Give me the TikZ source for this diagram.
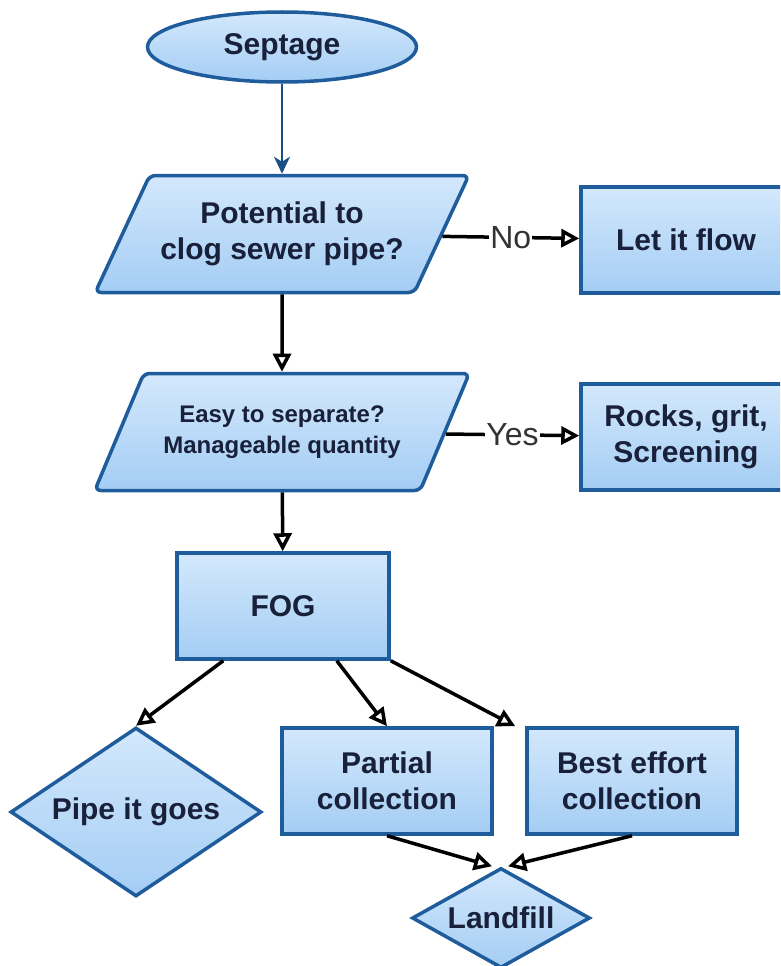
\documentclass[tikz,border=0pt]{standalone}
\usepackage{fontspec}
\setmainfont{Liberation Sans}
\usetikzlibrary{arrows.meta, shapes.geometric}

\definecolor{flowline}{HTML}{1F5C9C}
\definecolor{flowtop}{HTML}{D3E8FC}
\definecolor{flowbot}{HTML}{A4CDF4}
\definecolor{flowtext}{HTML}{18203A}

\begin{document}
\begin{tikzpicture}[x=1pt,y=-1pt,
 base/.style={draw=flowline,line width=3.5pt,top color=flowtop,bottom color=flowbot,
  text=flowtext,font=\fontsize{30}{36}\selectfont\bfseries,align=center},
 box node/.style={base,rectangle,minimum width=210pt,minimum height=106pt},
 term node/.style={base,ellipse,minimum width=269pt,minimum height=70pt},
 ask node/.style={base,trapezium,trapezium left angle=54,trapezium right angle=126,
  trapezium stretches=true,rounded corners=6pt,minimum width=375pt,minimum height=117pt},
 end node/.style={base,diamond,inner sep=0pt},
 flow/.style={line width=3.5pt,-{Triangle[open,length=18pt,width=18pt]}},
 answer/.style={font=\fontsize{32}{32}\selectfont,text=black!80,fill=white,inner sep=1pt}]

  \useasboundingbox (0,0) rectangle (780,966);
  \clip (0,0) rectangle (780,966);

  \node[term node] (1) at (282,47) {Septage};
  \node[ask node] (2) at (282,234) {Potential to\\clog sewer pipe?};
  \node[box node] (3) at (686,240) {Let it flow};
  \node[ask node,font=\fontsize{24}{31}\selectfont\bfseries] (4) at (282,432)
    {Easy to separate?\\Manageable quantity};
  \node[box node] (5) at (686,437) {Rocks, grit,\\Screening};
  \node[box node,minimum width=212pt] (6) at (283,606) {FOG};
  \node[end node,aspect=1.49,minimum width=251pt,minimum height=169pt] (7) at (136,812) {Pipe it goes};
  \node[box node] (8) at (387,781) {Partial\\collection};
  \node[box node] (9) at (632,781) {Best effort\\collection};
  \node[end node,aspect=1.78,minimum width=178pt,minimum height=100pt] (10) at (501,918) {Landfill};

  \coordinate (6a) at ([xshift=48pt]6.south west);
  \coordinate (6b) at ([xshift=-54pt]6.south east);
  \coordinate (9a) at ([xshift=-10pt]9.north west);
  \coordinate (10a) at ([xshift=-9pt]10.north);
  \coordinate (10b) at ([xshift=7pt]10.north);

  \draw[line width=2pt,draw=flowline!85!black,
    -{Stealth[length=17pt,width=16pt,inset=5pt]}] (1) -- (2);

  \foreach \s/\t/\i in {2/3/No, 4/5/Yes} {
   \path (\s) edge[flow] node[answer] {\i} (\t);}

  \foreach \s/\t in {2/4, 4/6, 6a/7.north, 6b/8.north, 6.south east/9a,
    8.south/10a, 9.south/10b} {
   \path (\s) edge[flow] (\t);}

\end{tikzpicture}
\end{document}
